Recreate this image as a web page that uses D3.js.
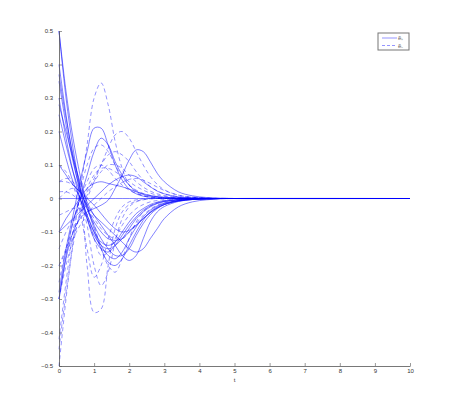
<!DOCTYPE html>
<html>
<head>
<meta charset="utf-8">
<script src="https://cdn.jsdelivr.net/npm/d3@7"></script>
<style>
  body { margin: 0; background: #fff; }
  .tick text { font-family: "Liberation Sans", Arial, sans-serif; font-size: 6px; fill: #333; }
</style>
</head>
<body>
<div id="chart"></div>
<script>
// sample times shared by every curve
var ts = [0, 0.2, 0.4, 0.6, 0.8, 1.0, 1.2, 1.4, 1.6, 1.8, 2.0, 2.2, 2.4, 2.6, 2.8, 3.0, 3.4, 3.8, 4.2, 4.6, 5, 10];

// solid curves (E+)
var solidSeries = [
  [0.5, 0.3, 0.15, 0.03, -0.06, -0.12, -0.15, -0.16, -0.14, -0.11, -0.08, -0.055, -0.035, -0.022, -0.014, -0.009, -0.004, -0.002, -0.001, 0, 0, 0],
  [0.5, 0.32, 0.18, 0.07, -0.02, -0.09, -0.14, -0.17, -0.18, -0.16, -0.12, -0.085, -0.055, -0.035, -0.022, -0.014, -0.006, -0.002, -0.001, 0, 0, 0],
  [0.4, 0.25, 0.12, 0.02, -0.05, -0.1, -0.13, -0.14, -0.13, -0.1, -0.07, -0.045, -0.03, -0.018, -0.011, -0.007, -0.003, -0.001, 0, 0, 0, 0],
  [0.37, 0.24, 0.13, 0.04, -0.03, -0.08, -0.12, -0.15, -0.17, -0.17, -0.15, -0.11, -0.075, -0.048, -0.03, -0.018, -0.007, -0.003, -0.001, 0, 0, 0],
  [0.35, 0.22, 0.11, 0.03, -0.03, -0.07, -0.1, -0.12, -0.125, -0.12, -0.1, -0.08, -0.06, -0.042, -0.028, -0.018, -0.008, -0.003, -0.001, 0, 0, 0],
  [0.3, 0.18, 0.08, 0.0, -0.06, -0.11, -0.14, -0.15, -0.14, -0.12, -0.09, -0.06, -0.04, -0.025, -0.015, -0.009, -0.003, -0.001, 0, 0, 0, 0],
  [0.28, 0.2, 0.12, 0.05, -0.01, -0.05, -0.08, -0.11, -0.14, -0.17, -0.185, -0.17, -0.12, -0.07, -0.04, -0.024, -0.009, -0.003, -0.001, 0, 0, 0],
  [0.25, 0.16, 0.08, 0.02, -0.02, -0.05, -0.07, -0.09, -0.11, -0.13, -0.15, -0.16, -0.15, -0.12, -0.09, -0.06, -0.025, -0.01, -0.004, -0.001, 0, 0],
  [0.2, 0.12, 0.05, 0.0, -0.05, -0.1, -0.15, -0.19, -0.2, -0.18, -0.14, -0.1, -0.065, -0.04, -0.025, -0.015, -0.006, -0.002, -0.001, 0, 0, 0],
  [0.1, 0.07, 0.04, 0.02, 0.0, -0.02, -0.045, -0.07, -0.09, -0.1, -0.095, -0.08, -0.06, -0.042, -0.028, -0.018, -0.007, -0.003, -0.001, 0, 0, 0],
  [0, 0, 0, 0, 0, 0, 0, 0, 0, 0, 0, 0, 0, 0, 0, 0, 0, 0, 0, 0, 0, 0],
  [-0.1, -0.06, -0.03, 0.0, 0.03, 0.045, 0.05, 0.045, 0.04, 0.035, 0.028, 0.02, 0.014, 0.009, 0.006, 0.004, 0.002, 0.001, 0, 0, 0, 0],
  [-0.1, -0.08, -0.06, -0.04, -0.02, 0.0, 0.02, 0.04, 0.055, 0.065, 0.07, 0.065, 0.05, 0.035, 0.022, 0.014, 0.005, 0.002, 0.001, 0, 0, 0],
  [-0.3, -0.17, -0.07, 0.0, 0.07, 0.14, 0.18, 0.16, 0.11, 0.07, 0.04, 0.022, 0.012, 0.007, 0.004, 0.002, 0.001, 0, 0, 0, 0, 0],
  [-0.28, -0.15, -0.05, 0.05, 0.14, 0.21, 0.21, 0.16, 0.1, 0.055, 0.028, 0.014, 0.007, 0.004, 0.002, 0.001, 0, 0, 0, 0, 0, 0],
  [-0.3, -0.18, -0.1, -0.06, -0.04, -0.03, -0.02, -0.005, 0.03, 0.07, 0.115, 0.145, 0.14, 0.11, 0.075, 0.05, 0.02, 0.008, 0.003, 0.001, 0, 0]
];

// dashed curves (E-)
var dashedSeries = [
  [-0.5, -0.3, -0.13, 0.02, 0.16, 0.3, 0.345, 0.28, 0.17, 0.09, 0.04, 0.018, 0.008, 0.003, 0.001, 0, 0, 0, 0, 0, 0, 0],
  [-0.42, -0.25, -0.1, 0.02, 0.1, 0.15, 0.16, 0.14, 0.1, 0.065, 0.04, 0.025, 0.015, 0.009, 0.005, 0.003, 0.001, 0, 0, 0, 0, 0],
  [-0.45, -0.28, -0.14, -0.04, 0.03, 0.07, 0.09, 0.09, 0.08, 0.065, 0.05, 0.036, 0.025, 0.016, 0.01, 0.006, 0.002, 0.001, 0, 0, 0, 0],
  [-0.3, -0.2, -0.12, -0.05, 0.01, 0.05, 0.08, 0.1, 0.1, 0.09, 0.07, 0.05, 0.034, 0.022, 0.014, 0.009, 0.003, 0.001, 0, 0, 0, 0],
  [-0.25, -0.15, -0.07, 0.0, 0.05, 0.09, 0.1, 0.085, 0.06, 0.04, 0.025, 0.015, 0.009, 0.005, 0.003, 0.002, 0, 0, 0, 0, 0, 0],
  [-0.2, -0.15, -0.1, -0.05, 0.0, 0.05, 0.1, 0.15, 0.19, 0.2, 0.18, 0.14, 0.1, 0.066, 0.042, 0.026, 0.01, 0.004, 0.001, 0, 0, 0],
  [-0.2, -0.16, -0.12, -0.08, -0.05, -0.02, 0.0, 0.02, 0.035, 0.048, 0.057, 0.06, 0.055, 0.045, 0.034, 0.024, 0.01, 0.004, 0.001, 0, 0, 0],
  [-0.15, -0.1, -0.06, -0.02, 0.02, 0.06, 0.1, 0.13, 0.14, 0.13, 0.11, 0.08, 0.055, 0.036, 0.023, 0.014, 0.005, 0.002, 0.001, 0, 0, 0],
  [0.0, 0.02, 0.03, 0.0, -0.2, -0.34, -0.33, -0.2, -0.09, -0.04, -0.018, -0.008, -0.003, -0.001, 0, 0, 0, 0, 0, 0, 0, 0],
  [0.05, 0.06, 0.05, 0.0, -0.08, -0.2, -0.26, -0.22, -0.13, -0.06, -0.025, -0.01, -0.004, -0.001, 0, 0, 0, 0, 0, 0, 0, 0],
  [0.1, 0.08, 0.04, -0.04, -0.15, -0.235, -0.2, -0.12, -0.06, -0.025, -0.01, -0.004, -0.001, 0, 0, 0, 0, 0, 0, 0, 0, 0],
  [0.05, 0.05, 0.04, 0.02, -0.02, -0.08, -0.15, -0.2, -0.22, -0.18, -0.12, -0.07, -0.04, -0.022, -0.012, -0.006, -0.002, 0, 0, 0, 0, 0],
  [-0.05, -0.04, -0.03, -0.03, -0.06, -0.12, -0.17, -0.16, -0.12, -0.08, -0.05, -0.03, -0.018, -0.01, -0.006, -0.003, -0.001, 0, 0, 0, 0, 0],
  [0.02, 0.02, 0.01, -0.01, -0.03, -0.06, -0.09, -0.11, -0.12, -0.12, -0.1, -0.075, -0.05, -0.032, -0.02, -0.012, -0.004, -0.001, 0, 0, 0, 0]
];

var xTicks = [0, 1, 2, 3, 4, 5, 6, 7, 8, 9, 10];
var yTicks = [-0.5, -0.4, -0.3, -0.2, -0.1, 0, 0.1, 0.2, 0.3, 0.4, 0.5];
var legendLabels = ["ẽ₊", "ẽ₋"];

var svgWidth = 455;
var svgHeight = 412;
var margin = { top: 31, right: 45, bottom: 46, left: 59 };
var width = svgWidth - margin.left - margin.right;
var height = svgHeight - margin.top - margin.bottom;

var svg = d3.select("#chart").append("svg")
  .attr("width", svgWidth)
  .attr("height", svgHeight);

var g = svg.append("g")
  .attr("transform", `translate(${margin.left}, ${margin.top})`);

var x = d3.scaleLinear().domain([0, 10]).range([0, width]);
var y = d3.scaleLinear().domain([-0.5, 0.5]).range([height, 0]);

var line = d3.line()
  .x(function(d, i) { return x(ts[i]); })
  .y(function(d) { return y(d); })
  .curve(d3.curveCatmullRom.alpha(0.5));

// curves
g.selectAll(".solid")
  .data(solidSeries)
  .enter()
  .append("path")
  .attr("class", "solid")
  .attr("d", line)
  .attr("fill", "none")
  .attr("stroke", "#0000ff")
  .attr("stroke-opacity", 0.7)
  .attr("stroke-width", 0.7);

g.selectAll(".dashed")
  .data(dashedSeries)
  .enter()
  .append("path")
  .attr("class", "dashed")
  .attr("d", line)
  .attr("fill", "none")
  .attr("stroke", "#0000ff")
  .attr("stroke-opacity", 0.6)
  .attr("stroke-width", 0.7)
  .attr("stroke-dasharray", "4,3");

// axes, ticks pointing inward like matlab
var xAxis = d3.axisBottom(x).tickValues(xTicks).tickSizeInner(-3).tickSizeOuter(0).tickPadding(3);
var yAxis = d3.axisLeft(y).tickValues(yTicks).tickSizeInner(-3).tickSizeOuter(0).tickPadding(6)
  .tickFormat(function(d) { return d === 0 ? "0" : String(d).replace("-", "\u2212"); });

var gx = g.append("g")
  .attr("transform", `translate(0, ${height})`)
  .call(xAxis);
var gy = g.append("g").call(yAxis);

[gx, gy].forEach(function(a) {
  a.select(".domain").attr("stroke", "#555").attr("stroke-width", 0.8);
  a.selectAll(".tick line").attr("stroke", "#555").attr("stroke-width", 0.6);
});

// x label
g.append("text")
  .attr("x", width / 2)
  .attr("y", height + 16)
  .attr("text-anchor", "middle")
  .style("font-family", "Liberation Sans, Arial, sans-serif")
  .style("font-size", "6px")
  .attr("fill", "#333")
  .text("t");

// legend
var legend = svg.append("g").attr("transform", "translate(378, 33)");
legend.append("rect")
  .attr("width", 31)
  .attr("height", 17)
  .attr("fill", "#fff")
  .attr("stroke", "#777")
  .attr("stroke-width", 1);

legendLabels.forEach(function(lbl, i) {
  var ly = 5 + i * 7.5;
  legend.append("line")
    .attr("x1", 4).attr("x2", 19)
    .attr("y1", ly).attr("y2", ly)
    .attr("stroke", "#0000ff")
    .attr("stroke-opacity", 0.6)
    .attr("stroke-width", 0.7)
    .attr("stroke-dasharray", i === 1 ? "3,2" : null);
  legend.append("text")
    .attr("x", 20)
    .attr("y", ly + 2)
    .style("font-family", "Liberation Sans, Arial, sans-serif")
    .style("font-size", "6px")
    .attr("fill", "#666")
    .text(lbl);
});
</script>
</body>
</html>
